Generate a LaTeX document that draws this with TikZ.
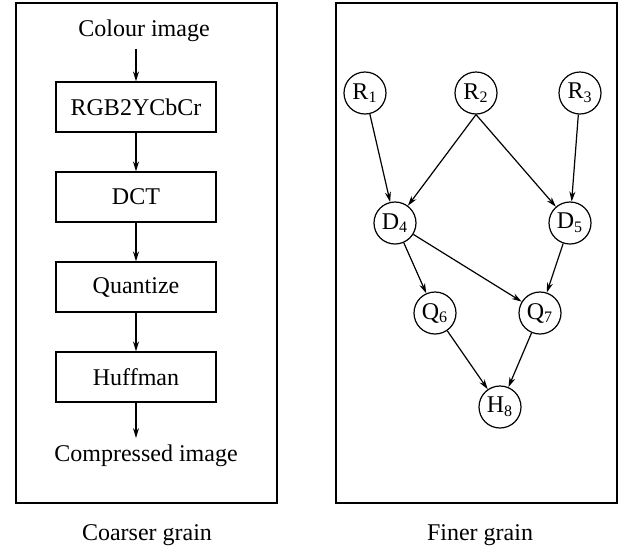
\documentclass[tikz,border=0pt]{standalone}
\usepackage{fontspec}
\setmainfont{Liberation Serif}
\usepackage{tikz}
\usetikzlibrary{%
	arrows.meta,%
	calc%
}

\begin{document}
\begin{tikzpicture}[x=0.5pt,y=-0.5pt,
		font=\fontsize{12}{14}\selectfont,
		flow/.style={draw,line width=0.6pt,minimum width=80pt,minimum height=25pt,inner sep=0pt},
		task/.style={draw,circle,line width=0.6pt,minimum size=21pt,inner sep=0pt},
		edge/.style={line width=0.6pt,-{Stealth[length=5pt,width=3pt]}}
	]
		\useasboundingbox (0,0) rectangle (622,548);

		% Frames
		\draw[line width=0.6pt] (16,3) rectangle (277,503);
		\draw[line width=0.6pt] (336,3) rectangle (617,503);

		% Coarser grain: one chain of stages
		\node (src) at (144,31) {Colour image};
		\node[flow] (rgb) at (136,107) {RGB2YCbCr};
		\node[flow] (dct) at (136,197) {DCT};
		\node[flow] (quant) at (136,287) {Quantize};
		\node[flow] (huff) at (136,377) {Huffman};
		\node (dst) at (146,456) {Compressed image};

		\draw[edge] (src.south -| rgb) -- (rgb);
		\draw[edge] (rgb) -- (dct);
		\draw[edge] (dct) -- (quant);
		\draw[edge] (quant) -- (huff);
		\draw[edge] (huff) -- (dst.north -| huff);

		% Finer grain: task graph
		\node[task] (r1) at (365,93) {R\textsubscript{1}};
		\node[task] (r2) at (476,93) {R\textsubscript{2}};
		\node[task] (r3) at (580,93) {R\textsubscript{3}};
		\node[task] (d4) at (395,223) {D\textsubscript{4}};
		\node[task] (d5) at (570,223) {D\textsubscript{5}};
		\node[task] (q6) at (435,313) {Q\textsubscript{6}};
		\node[task] (q7) at (540,313) {Q\textsubscript{7}};
		\node[task] (h8) at (500,407) {H\textsubscript{8}};

		\draw[edge] (r1) -- (d4);
		\draw[edge] (r2.south) -- (d4);
		\draw[edge] (r2.south) -- (d5);
		\draw[edge] (r3) -- (d5);
		\draw[edge] (d4) -- (q6);
		\draw[edge] (d4) -- (q7);
		\draw[edge] (d5) -- (q7);
		\draw[edge] (q6) -- (h8);
		\draw[edge] (q7) -- (h8);

		% Captions
		\node (cap1) at (147,535) {Coarser grain};
		\node (cap2) at (480,535) {Finer grain};
	\end{tikzpicture}
\end{document}
